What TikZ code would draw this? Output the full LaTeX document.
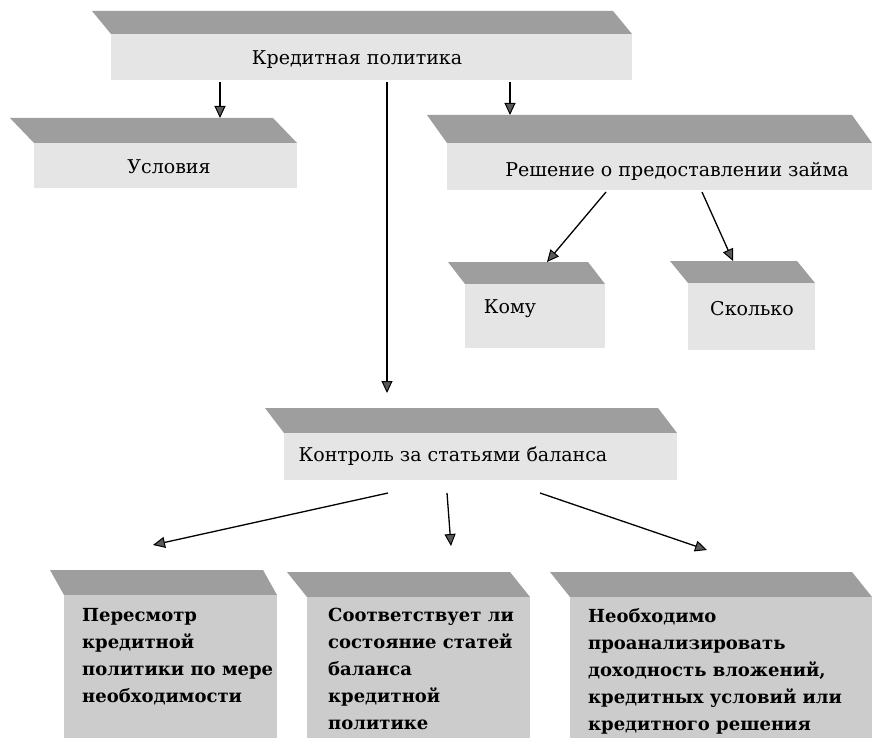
\documentclass[tikz,border=0pt]{standalone}
\usepackage{fontspec}
\setmainfont{DejaVu Serif}
\usetikzlibrary{arrows.meta}

% A block: slanted top band over a flat front face, plus an invisible
% named node covering the whole block for the connectors.
% #1 name, #2 x0, #3 top y, #4 x1 (top right), #5 bottom y,
% #6 slant, #7 band height, #8 front fill style
\newcommand\slabblock[8]{%
  \fill[bandfill] (#2,#3) -- (#4,#3) -- ({#4+#6},{#3+#7}) -- ({#2+#6},{#3+#7}) -- cycle;
  \fill[#8] ({#2+#6},{#3+#7}) rectangle ({#4+#6},#5);
  \node[boxarea,minimum width={(#4+#6-#2)*1pt},minimum height={(#5-#3)*1pt}] (#1) at (#2,#3) {};
}

\begin{document}
\begin{tikzpicture}[x=1pt,y=-1pt,
  bandfill/.style={fill=black!38},
  frontfill/.style={fill=black!10},
  frontdeep/.style={fill=black!20},
  boxarea/.style={inner sep=0pt,outer sep=0pt,anchor=north west},
  lbl/.style={inner sep=0pt,anchor=base,font=\fontsize{19}{23}\selectfont},
  blocktext/.style={inner sep=0pt,anchor=north west,align=left,
    font=\fontsize{18}{27}\selectfont\bfseries},
  arr/.style={line width=1.3pt,
    -{Triangle[length=12pt,width=11pt,line width=1pt,fill=black!65]}}]

\path[fill=white] (0,0) rectangle (872,738);

% upper level
\slabblock{credit}{92}{11}{613}{80}{19}{23}{frontfill}
\node[lbl] (credit-t) at (357,65) {Кредитная политика};

\slabblock{cond}{10}{118}{273}{188}{24}{25}{frontfill}
\node[lbl] (cond-t) at (169,174) {Условия};

\slabblock{decision}{427}{115}{852}{190}{20}{28}{frontfill}
\node[lbl] (decision-t) at (677,177) {Решение о предоставлении займа};

\slabblock{whom}{448}{262}{588}{348}{17}{22}{frontfill}
\node[lbl] (whom-t) at (510,313) {Кому};

\slabblock{howmuch}{670}{261}{797}{350}{18}{22}{frontfill}
\node[lbl] (howmuch-t) at (752,315) {Сколько};

\slabblock{control}{265}{408}{658}{480}{19}{25}{frontfill}
\node[lbl] (control-t) at (453,461) {Контроль за статьями баланса};

% lower level
\slabblock{review}{50}{570}{263}{738}{14}{25}{frontdeep}
\node[blocktext] (review-t) at (82,608)
  {Пересмотр\\кредитной\\политики по мере\\необходимости};

\slabblock{balance}{287}{572}{510}{738}{20}{25}{frontdeep}
\node[blocktext] (balance-t) at (328,608)
  {Соответствует ли\\состояние статей\\баланса\\кредитной\\политике};

\slabblock{analyse}{550}{572}{852}{738}{20}{25}{frontdeep}
\node[blocktext] (analyse-t) at (588,608)
  {Необходимо\\проанализировать\\доходность вложений,\\кредитных условий или\\кредитного решения};

% connectors
\draw[arr] ([xshift=128pt,yshift=-2pt]credit.south west) -- ([xshift=210pt]cond.north west);
\draw[arr] ([xshift=295pt,yshift=-2pt]credit.south west) -- ([xshift=122pt,yshift=15pt]control.north west);
\draw[arr] ([xshift=418pt,yshift=-2pt]credit.south west) -- ([xshift=83pt]decision.north west);
\draw[arr] ([xshift=179pt,yshift=-2pt]decision.south west) -- ([xshift=99pt]whom.north west);
\draw[arr] ([xshift=275pt,yshift=-2pt]decision.south west) -- ([xshift=63pt]howmuch.north west);
\draw[arr] ([xshift=123pt,yshift=-13pt]control.south west) -- ([xshift=103pt,yshift=25pt]review.north west);
\draw[arr] ([xshift=182pt,yshift=-13pt]control.south west) -- ([xshift=164pt,yshift=26pt]balance.north west);
\draw[arr] ([xshift=275pt,yshift=-13pt]control.south west) -- ([xshift=157pt,yshift=22pt]analyse.north west);
\end{tikzpicture}
\end{document}
